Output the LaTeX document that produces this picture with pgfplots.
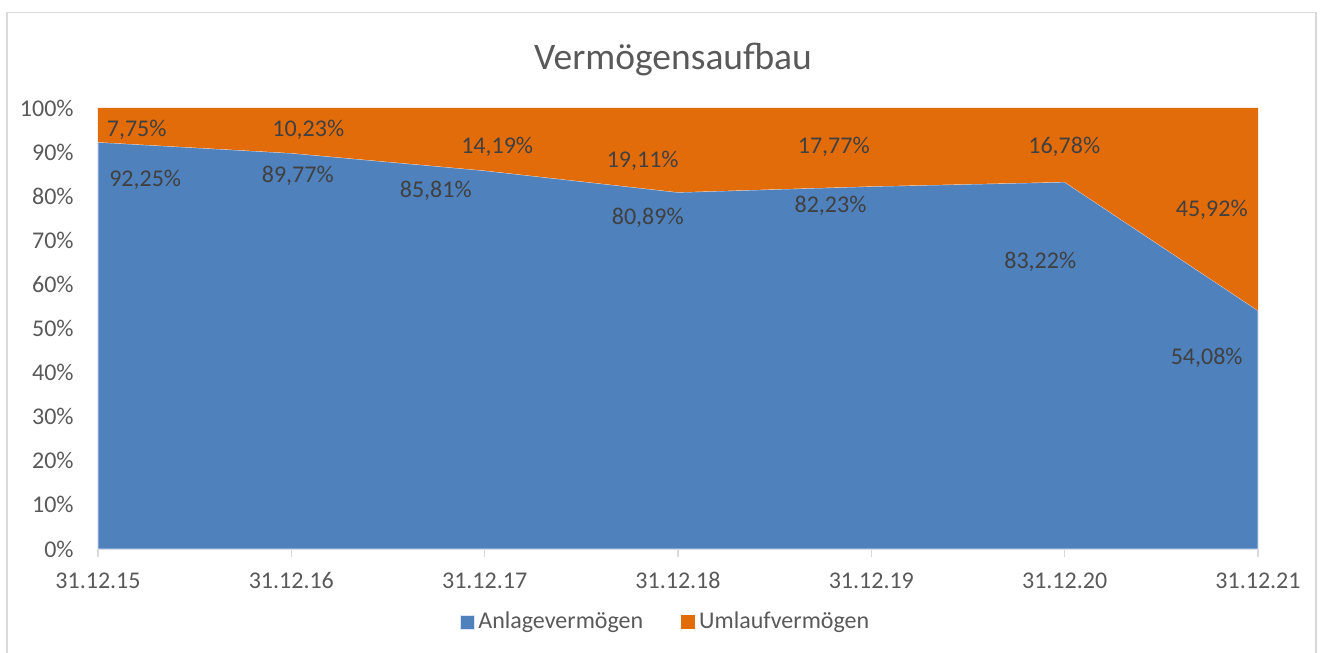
\documentclass[border=0pt]{standalone}
\usepackage{fontspec}
\setmainfont{Carlito}
\usepackage{pgfplots}
\pgfplotsset{compat=1.18}
\definecolor{blueA}{HTML}{4F81BD}
\definecolor{orangeA}{HTML}{E36C0A}
\definecolor{tickc}{HTML}{595959}
\definecolor{labc}{HTML}{404040}
\definecolor{framec}{HTML}{D9D9D9}

\pgfplotstableread{
x y
0 92.25
1 89.77
2 85.81
3 80.89
4 82.23
5 83.22
6 54.08
}\anlage
\pgfplotstableread{
x y
0 7.75
1 10.23
2 14.19
3 19.11
4 17.77
5 16.78
6 45.92
}\umlauf

\begin{document}
\begin{tikzpicture}
\path[use as bounding box] (0,0) rectangle (662pt,326.5pt);
\draw[framec, line width=0.75pt] (3.5pt,-10pt) rectangle (658pt,320.2pt);
\begin{axis}[
  at={(49pt,52pt)}, anchor=south west,
  scale only axis, width=580pt, height=220.5pt,
  xmin=0, xmax=6, ymin=0, ymax=100,
  axis x line*=bottom, axis y line*=left,
  y axis line style={draw=none},
  x axis line style={framec, line width=0.75pt},
  tick align=outside, major tick length=4pt,
  xtick={0,1,2,3,4,5,6},
  xticklabels={31.12.15,31.12.16,31.12.17,31.12.18,31.12.19,31.12.20,31.12.21},
  x tick style={framec, line width=0.75pt},
  xticklabel style={font=\fontsize{12}{14}\selectfont, text=tickc, anchor=base, yshift=-16pt},
  ytick={0,10,20,30,40,50,60,70,80,90,100},
  yticklabels={0\%,10\%,20\%,30\%,40\%,50\%,60\%,70\%,80\%,90\%,100\%},
  y tick style={draw=none},
  yticklabel style={font=\fontsize{12}{14}\selectfont, text=tickc, anchor=east, inner sep=0pt, xshift=-8pt},
  clip=false,
  legend columns=2,
  legend style={at={(0.490,-0.1655)}, anchor=center, draw=none, fill=none,
    font=\fontsize{12}{14}\selectfont, text=tickc,
    /tikz/every even column/.append style={column sep=17pt}},
  legend image code/.code={\fill[#1] (0pt,-3.5pt) rectangle (7pt,3.5pt);},
]
\addplot[stack plots=y, fill=blueA, draw=white!80!blueA, line width=0.4pt] table {\anlage} \closedcycle;
\addlegendentry{Anlagevermögen}
\addplot[stack plots=y, fill=orangeA, draw=none] table {\umlauf} \closedcycle;
\addlegendentry{Umlaufvermögen}

\addplot[forget plot, draw=none, nodes near coords, point meta=explicit symbolic,
  nodes near coords style={anchor=base, inner sep=0pt, font=\fontsize{12}{14}\selectfont, text=labc}]
  table[meta=lab] {
x y lab
0.2441 82.29 92,25\%
1.0334 83.15 89,77\%
1.7472 79.75 85,81\%
2.8438 73.58 80,89\%
3.7888 76.19 82,23\%
4.874 63.65 83,22\%
5.7347 41.84 54,08\%
};
\addplot[forget plot, draw=none, nodes near coords, point meta=explicit symbolic,
  nodes near coords style={anchor=base, inner sep=0pt, font=\fontsize{12}{14}\selectfont, text=labc}]
  table[meta=lab] {
x y lab
0.2002 93.63 7,75\%
1.0878 93.63 10,23\%
2.0648 89.57 14,19\%
2.8174 86.55 19,11\%
3.8059 89.57 17,77\%
4.998 89.57 16,78\%
5.761 75.49 45,92\%
};
\node[anchor=base, font=\fontsize{18.75}{22}\selectfont, text=tickc] at (axis description cs:0.4957,1.0878) {Vermögensaufbau};
\end{axis}
\end{tikzpicture}
\end{document}
